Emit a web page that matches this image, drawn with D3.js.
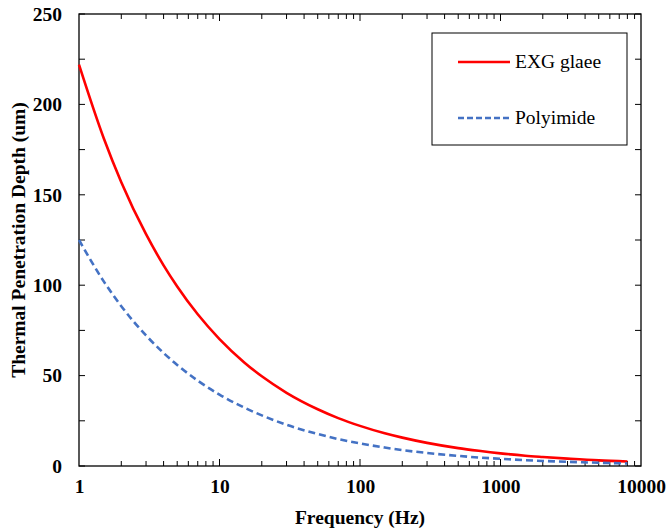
<!DOCTYPE html>
<html><head><meta charset="utf-8">
<script src="https://cdn.jsdelivr.net/npm/d3@7"></script>
<style>body{margin:0;background:#fff}svg{display:block}</style>
</head><body>
<script>
const freq = [1, 1.5, 2, 3, 4, 5, 7, 10, 15, 20, 30, 50, 70, 100, 150, 200, 300, 500, 700, 1000, 1500, 2000, 3000, 5000, 8000];
const exg = [222, 181.3, 157.0, 128.2, 111.0, 99.3, 83.9, 70.2, 57.3, 49.6, 40.5, 31.4, 26.5, 22.2, 18.1, 15.7, 12.8, 9.9, 8.4, 7.0, 5.7, 5.0, 4.1, 3.1, 2.5];
const polyimide = [125, 102.1, 88.4, 72.2, 62.5, 55.9, 47.2, 39.5, 32.3, 28.0, 22.8, 17.7, 14.9, 12.5, 10.2, 8.8, 7.2, 5.6, 4.7, 4.0, 3.2, 2.8, 2.3, 1.8, 1.4];
const xTicks = [1, 10, 100, 1000, 10000];
const yTicks = [0, 50, 100, 150, 200, 250];
const seriesNames = ["EXG glaee", "Polyimide"];

const W = 669, H = 531;
const m = {l: 79, r: 28, t: 14, b: 65};
const svg = d3.select("body").append("svg").attr("width", W).attr("height", H);
const x = d3.scaleLog().domain([1, 10000]).range([m.l, W - m.r]);
const y = d3.scaleLinear().domain([0, 250]).range([H - m.b, m.t]);
const FS = "19.5px";
const FF = '"Liberation Serif"';

// minor ticks
const minorX = [];
for (let d = 1; d < 10000; d *= 10) for (let k = 2; k <= 9; k++) minorX.push(d * k);
const minorY = d3.range(0, 251, 25);

// bottom axis
const gx = svg.append("g").attr("transform", `translate(0,${H - m.b})`)
  .call(d3.axisBottom(x).tickValues(xTicks).tickFormat(d3.format("d")).tickSize(0).tickPadding(13));
gx.select(".domain").remove();
gx.selectAll("text").style("font-family", FF).style("font-size", FS).style("font-weight", "bold").attr("fill", "#000");

const gy = svg.append("g").attr("transform", `translate(${m.l},0)`)
  .call(d3.axisLeft(y).tickValues(yTicks).tickSize(0).tickPadding(17));
gy.select(".domain").remove();
gy.selectAll("text").style("font-family", FF).style("font-size", FS).style("font-weight", "bold").attr("fill", "#000");

// inward ticks
const tk = svg.append("g").attr("stroke", "#000").attr("stroke-width", 1);
minorX.concat(xTicks.slice(1, -1)).forEach(v => {
  const len = xTicks.includes(v) ? 7 : 5;
  tk.append("line").attr("x1", x(v)).attr("x2", x(v)).attr("y1", H - m.b).attr("y2", H - m.b - len);
  tk.append("line").attr("x1", x(v)).attr("x2", x(v)).attr("y1", m.t).attr("y2", m.t + len);
});
minorY.forEach(v => {
  tk.append("line").attr("x1", m.l).attr("x2", m.l + 6).attr("y1", y(v)).attr("y2", y(v));
  tk.append("line").attr("x1", W - m.r).attr("x2", W - m.r - 6).attr("y1", y(v)).attr("y2", y(v));
});

// frame
svg.append("rect").attr("x", m.l).attr("y", m.t).attr("width", W - m.r - m.l).attr("height", H - m.b - m.t)
  .attr("fill", "none").attr("stroke", "#000").attr("stroke-width", 1.3);

// lines
const line = vals => d3.line().x((d, i) => x(freq[i])).y(d => y(d)).curve(d3.curveMonotoneX)(vals);
svg.append("path").attr("d", line(exg)).attr("fill", "none").attr("stroke", "#FF0000").attr("stroke-width", 2.6);
svg.append("path").attr("d", line(polyimide)).attr("fill", "none").attr("stroke", "#4472C4").attr("stroke-width", 2.6).attr("stroke-dasharray", "7,4");

// legend
const lg = svg.append("g");
lg.append("rect").attr("x", 432).attr("y", 33).attr("width", 195).attr("height", 112).attr("fill", "#fff").attr("stroke", "#000").attr("stroke-width", 1);
lg.append("line").attr("x1", 458).attr("x2", 510).attr("y1", 62).attr("y2", 62).attr("stroke", "#FF0000").attr("stroke-width", 2.6);
lg.append("line").attr("x1", 458).attr("x2", 510).attr("y1", 118).attr("y2", 118).attr("stroke", "#4472C4").attr("stroke-width", 2.6).attr("stroke-dasharray", "6,3");
lg.append("text").attr("x", 515).attr("y", 68).text(seriesNames[0]).style("font-family", FF).style("font-size", FS);
lg.append("text").attr("x", 515).attr("y", 124).text(seriesNames[1]).style("font-family", FF).style("font-size", FS);

// titles
svg.append("text").attr("x", (m.l + W - m.r) / 2).attr("y", 524).attr("text-anchor", "middle")
  .style("font-family", FF).style("font-size", FS).style("font-weight", "bold").text("Frequency (Hz)");
svg.append("text").attr("transform", `translate(25,${(m.t + H - m.b) / 2}) rotate(-90)`).attr("text-anchor", "middle")
  .style("font-family", FF).style("font-size", FS).style("font-weight", "bold").text("Thermal Penetration Depth (um)");
</script>
</body></html>
